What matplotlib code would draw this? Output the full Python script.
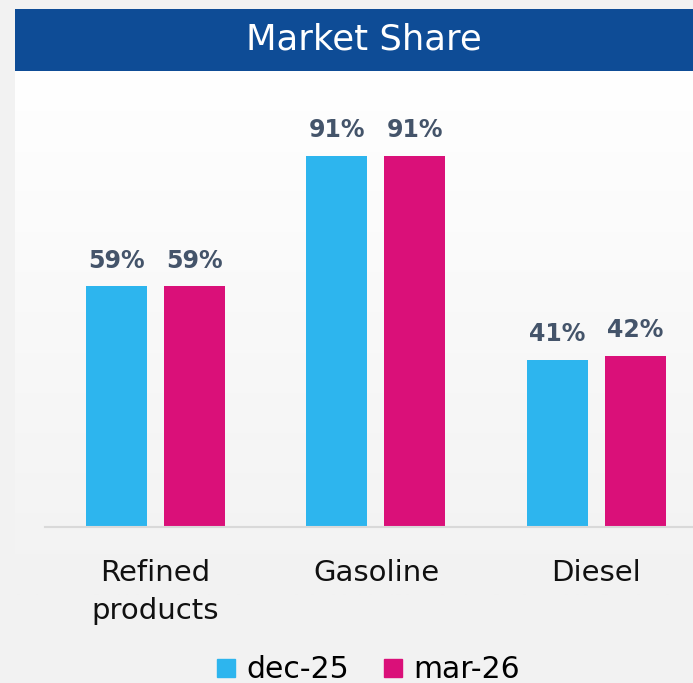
import numpy as np
import matplotlib.pyplot as plt
from matplotlib.lines import Line2D

categories = ['Refined\nproducts', 'Gasoline', 'Diesel']
series = ['dec-25', 'mar-26']
dec_25 = [59, 91, 41]
mar_26 = [59, 91, 42]

colors = ['#2DB5EE', '#DA1079']
W, H = 693, 683

plt.rcParams['font.family'] = ['DejaVu Sans']

fig = plt.figure(figsize=(W / 100, H / 100), dpi=100, facecolor='#F2F2F2')

# panel with soft vertical gradient
bg = fig.add_axes([15 / W, (H - 595) / H, (W - 15) / W, (595 - 70) / H])
grad = np.linspace(1, 0, 256).reshape(-1, 1)
top = np.array([1.0, 1.0, 1.0])
bot = np.array([0xF2, 0xF2, 0xF2]) / 255
img = bot + (top - bot) * grad[..., None]
bg.imshow(img, aspect='auto', extent=[0, 1, 0, 1])
bg.set_axis_off()

# header bar
hd = fig.add_axes([15 / W, (H - 71) / H, (W - 15) / W, 62 / H])
hd.set_facecolor('#0E4C96')
hd.set_xticks([])
hd.set_yticks([])
for s in hd.spines.values():
    s.set_visible(False)
hd.text(0.515, 0.5, 'Market Share', color='white', fontsize=25.5, ha='center',
        va='center', transform=hd.transAxes)

ax = fig.add_axes([45 / W, (H - 527) / H, (W - 45) / W, 407.7 / H])
ax.patch.set_alpha(0)
x = np.arange(len(categories))
bw = 0.2766
off = 0.1769
for vals, c, dx in [(dec_25, colors[0], -off), (mar_26, colors[1], off)]:
    bars = ax.bar(x + dx, vals, width=bw, color=c)
    for b, v in zip(bars, vals):
        ax.annotate(f'{v}%', (b.get_x() + b.get_width() / 2, v),
                    xytext=(0, 10), textcoords='offset points', ha='center',
                    va='bottom', fontsize=17, fontweight='bold', color='#44546A')

ax.set_xlim(-0.501, 2.438)
ax.set_ylim(0, 100)
ax.set_yticks([])
ax.set_xticks(x)
ax.set_xticklabels(categories, fontsize=21, color='#111111', linespacing=1.45)
ax.tick_params(axis='x', length=0, pad=23)
for s in ['top', 'right', 'left']:
    ax.spines[s].set_visible(False)
ax.spines['bottom'].set_color('#D9D9D9')
ax.spines['bottom'].set_linewidth(1.5)

handles = [Line2D([], [], marker='s', linestyle='none', markersize=13.5,
                  markerfacecolor=c, markeredgecolor=c) for c in colors]
fig.legend(handles, series, loc='center', bbox_to_anchor=(367 / W, (H - 670) / H),
           ncol=2, frameon=False, fontsize=21.5, handletextpad=0.25,
           columnspacing=1.1, handlelength=0.8)

fig.savefig('out.png', dpi=100, facecolor=fig.get_facecolor())
